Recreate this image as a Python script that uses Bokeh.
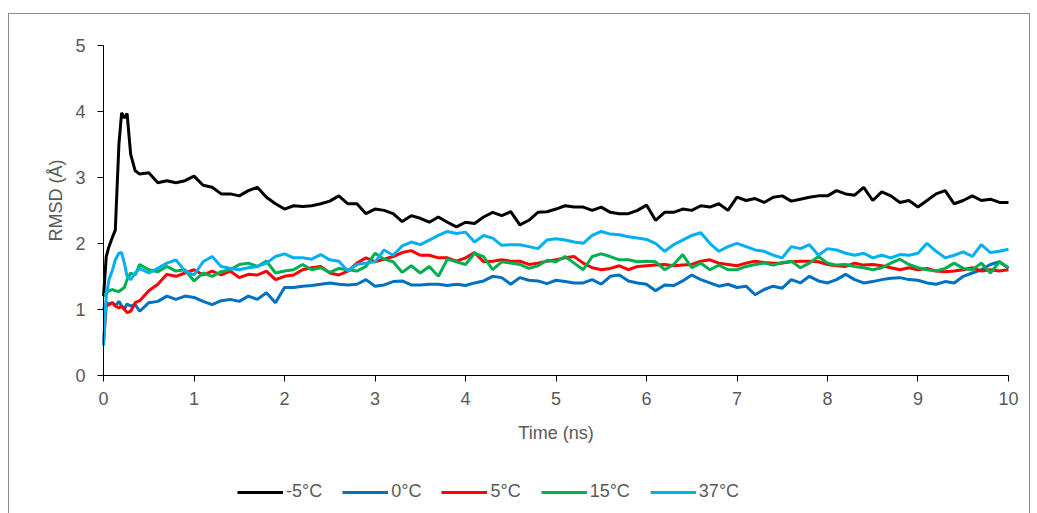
from bokeh.plotting import figure
from bokeh.models import Range1d, Legend, LegendItem, FixedTicker, Title
from bokeh.embed import file_html
from bokeh.resources import INLINE

time_ns = [0, 0.03, 0.06, 0.1, 0.13, 0.17, 0.2, 0.23, 0.26, 0.3, 0.35, 0.4,
           0.5, 0.6, 0.7, 0.8, 0.9, 1.0, 1.1, 1.2, 1.3, 1.4, 1.5, 1.6, 1.7, 1.8, 1.9,
           2.0, 2.1, 2.2, 2.3, 2.4, 2.5, 2.6, 2.7, 2.8, 2.9,
           3.0, 3.1, 3.2, 3.3, 3.4, 3.5, 3.6, 3.7, 3.8, 3.9,
           4.0, 4.1, 4.2, 4.3, 4.4, 4.5, 4.6, 4.7, 4.8, 4.9,
           5.0, 5.1, 5.2, 5.3, 5.4, 5.5, 5.6, 5.7, 5.8, 5.9,
           6.0, 6.1, 6.2, 6.3, 6.4, 6.5, 6.6, 6.7, 6.8, 6.9,
           7.0, 7.1, 7.2, 7.3, 7.4, 7.5, 7.6, 7.7, 7.8, 7.9,
           8.0, 8.1, 8.2, 8.3, 8.4, 8.5, 8.6, 8.7, 8.8, 8.9,
           9.0, 9.1, 9.2, 9.3, 9.4, 9.5, 9.6, 9.7, 9.8, 9.9, 10.0]

rmsd_m5 = [1.2, 1.8, 1.95, 2.1, 2.2, 3.5, 3.98, 3.9, 3.97, 3.35, 3.1, 3.05,
           3.07, 2.92, 2.95, 2.92, 2.95, 3.02, 2.88, 2.85, 2.75, 2.75, 2.72, 2.8, 2.85, 2.7, 2.6,
           2.52, 2.57, 2.56, 2.57, 2.6, 2.64, 2.72, 2.6, 2.6, 2.45,
           2.52, 2.5, 2.45, 2.33, 2.42, 2.38, 2.32, 2.4, 2.32, 2.25,
           2.32, 2.3, 2.4, 2.47, 2.42, 2.48, 2.28, 2.35, 2.47, 2.48,
           2.52, 2.57, 2.55, 2.55, 2.5, 2.55, 2.47, 2.45, 2.45, 2.5,
           2.58, 2.35, 2.47, 2.47, 2.52, 2.5, 2.57, 2.55, 2.6, 2.5,
           2.7, 2.65, 2.68, 2.62, 2.7, 2.72, 2.64, 2.67, 2.7, 2.72,
           2.72, 2.8, 2.75, 2.73, 2.85, 2.65, 2.78, 2.72, 2.62, 2.65,
           2.55, 2.65, 2.75, 2.8, 2.6, 2.65, 2.72, 2.65, 2.67, 2.62, 2.62]

rmsd_0 = [1.0, 1.1, 1.08, 1.1, 1.05, 1.12, 1.05, 1.0, 1.08, 1.05, 1.07, 0.97,
          1.1, 1.12, 1.2, 1.15, 1.2, 1.18, 1.12, 1.07, 1.13, 1.15, 1.12, 1.2, 1.15, 1.25, 1.1,
          1.33, 1.33, 1.35, 1.36, 1.38, 1.4, 1.38, 1.37, 1.38, 1.45,
          1.35, 1.37, 1.42, 1.43, 1.37, 1.37, 1.38, 1.38, 1.36, 1.38,
          1.36, 1.4, 1.43, 1.5, 1.48, 1.38, 1.48, 1.44, 1.43, 1.39,
          1.44, 1.42, 1.4, 1.4, 1.45, 1.38, 1.5, 1.52, 1.43, 1.4,
          1.38, 1.28, 1.37, 1.36, 1.43, 1.52, 1.45, 1.4, 1.35, 1.38,
          1.33, 1.35, 1.22, 1.3, 1.35, 1.32, 1.45, 1.4, 1.5, 1.43,
          1.4, 1.45, 1.53, 1.45, 1.4, 1.42, 1.45, 1.47, 1.48, 1.45,
          1.44, 1.4, 1.38, 1.42, 1.4, 1.5, 1.55, 1.6, 1.68, 1.72, 1.62]

rmsd_5 = [0.48, 1.05, 1.07, 1.1, 1.05, 1.02, 1.05, 1.0, 0.95, 0.97, 1.1, 1.13,
          1.28, 1.38, 1.53, 1.5, 1.55, 1.6, 1.52, 1.58, 1.52, 1.58, 1.48, 1.53, 1.52, 1.58, 1.45,
          1.5, 1.52, 1.6, 1.63, 1.65, 1.55, 1.52, 1.58, 1.7, 1.78,
          1.72, 1.76, 1.8, 1.86, 1.89, 1.82, 1.82, 1.78, 1.78, 1.73,
          1.78, 1.86, 1.72, 1.73, 1.75, 1.73, 1.73, 1.68, 1.7, 1.73,
          1.75, 1.78, 1.8, 1.7, 1.63, 1.6, 1.62, 1.66, 1.6, 1.65,
          1.66, 1.67, 1.68, 1.66, 1.67, 1.68, 1.73, 1.75, 1.7, 1.68,
          1.66, 1.7, 1.73, 1.71, 1.7, 1.7, 1.72, 1.73, 1.73, 1.72,
          1.68, 1.66, 1.65, 1.7, 1.67, 1.68, 1.66, 1.63, 1.6, 1.63,
          1.6, 1.62, 1.58, 1.57, 1.58, 1.6, 1.63, 1.58, 1.6, 1.58, 1.6]

rmsd_15 = [1.2, 1.25, 1.28, 1.3, 1.28, 1.27, 1.3, 1.33, 1.45, 1.55, 1.52, 1.68,
           1.6, 1.57, 1.65, 1.58, 1.6, 1.43, 1.55, 1.5, 1.57, 1.6, 1.68, 1.7, 1.65, 1.73, 1.55,
           1.58, 1.6, 1.68, 1.6, 1.63, 1.56, 1.62, 1.6, 1.58, 1.65,
           1.85, 1.76, 1.72, 1.56, 1.66, 1.55, 1.65, 1.5, 1.76, 1.72,
           1.68, 1.85, 1.8, 1.6, 1.72, 1.7, 1.68, 1.62, 1.66, 1.74,
           1.72, 1.8, 1.7, 1.6, 1.8, 1.84, 1.8, 1.75, 1.75, 1.72,
           1.73, 1.72, 1.6, 1.68, 1.83, 1.63, 1.7, 1.6, 1.67, 1.6,
           1.6, 1.65, 1.68, 1.7, 1.67, 1.71, 1.73, 1.63, 1.7, 1.8,
           1.7, 1.67, 1.68, 1.65, 1.63, 1.6, 1.63, 1.7, 1.76, 1.68,
           1.63, 1.6, 1.58, 1.62, 1.7, 1.62, 1.6, 1.7, 1.55, 1.72, 1.63]

rmsd_37 = [0.45, 1.2, 1.45, 1.6, 1.75, 1.85, 1.86, 1.7, 1.5, 1.45, 1.55, 1.62,
           1.55, 1.62, 1.7, 1.75, 1.58, 1.52, 1.72, 1.8, 1.65, 1.62, 1.6, 1.63, 1.65, 1.7, 1.8,
           1.84, 1.78, 1.78, 1.76, 1.83, 1.75, 1.73, 1.58, 1.68, 1.7,
           1.72, 1.9, 1.82, 1.96, 2.02, 1.98, 2.05, 2.12, 2.18, 2.15,
           2.17, 2.02, 2.12, 2.08, 1.97, 1.98, 1.98, 1.95, 1.92, 2.05,
           2.07, 2.05, 2.02, 2.0, 2.12, 2.18, 2.14, 2.13, 2.1, 2.08,
           2.06, 2.0, 1.88, 1.98, 2.05, 2.12, 2.16, 2.0, 1.88, 1.95,
           2.0, 1.95, 1.9, 1.88, 1.82, 1.78, 1.95, 1.92, 1.98, 1.82,
           1.92, 1.9, 1.85, 1.82, 1.85, 1.78, 1.82, 1.78, 1.83, 1.82,
           1.85, 2.0, 1.88, 1.78, 1.82, 1.87, 1.8, 1.98, 1.86, 1.88, 1.91]

series_names = ["-5°C", "0°C", "5°C", "15°C", "37°C"]
series_values = [rmsd_m5, rmsd_0, rmsd_5, rmsd_15, rmsd_37]
series_colors = ["#000000", "#0070C0", "#FF0000", "#00B050", "#00B0F0"]
x_ticks = [0, 1, 2, 3, 4, 5, 6, 7, 8, 9, 10]
y_ticks = [0, 1, 2, 3, 4, 5]

FONT = "Liberation Sans"
TXT = "#595959"

# The frame is enlarged so that axis labels and the legend sit inside it;
# both axes are pinned at the data origin and bounded to the data extent.
p = figure(width=1022, height=500, output_backend="svg", toolbar_location=None,
           x_range=Range1d(-0.365, 10.199), y_range=Range1d(-2.112, 5.152),
           min_border_left=61, min_border_right=5, min_border_top=21, min_border_bottom=0,
           margin=(13, 0, 0, 8))
p.styles = {"border-top": "1px solid #8c8c8c", "border-left": "1px solid #8c8c8c",
            "border-right": "1px solid #8c8c8c"}
p.outline_line_color = None
p.grid.visible = False
p.background_fill_color = "white"
p.border_fill_color = "white"

for ax in (p.xaxis[0], p.yaxis[0]):
    ax.axis_line_color = "#000000"
    ax.axis_line_width = 1
    ax.major_tick_line_color = "#000000"
    ax.major_tick_in = 0
    ax.major_tick_out = 6
    ax.minor_tick_line_color = None
    ax.major_label_text_font = FONT
    ax.major_label_text_font_size = "18px"
    ax.major_label_text_color = TXT
    ax.axis_label_text_font = FONT
    ax.axis_label_text_font_size = "18px"
    ax.axis_label_text_color = TXT
    ax.axis_label_text_font_style = "normal"

p.xaxis.ticker = FixedTicker(ticks=x_ticks)
p.yaxis.ticker = FixedTicker(ticks=y_ticks)
p.xaxis.bounds = (0, 10)
p.yaxis.bounds = (0, 5)
p.xaxis.fixed_location = 0
p.yaxis.fixed_location = 0
p.xaxis.axis_label = "Time (ns)"
p.xaxis.major_label_standoff = 11
p.xaxis.axis_label_standoff = 14
p.yaxis.major_label_standoff = 12

p.add_layout(Title(text="RMSD (Å)", align="left", offset=273, standoff=10,
                   text_font=FONT, text_font_size="18px", text_font_style="normal",
                   text_color=TXT), "left")

items = []
for name, vals, col in zip(series_names, series_values, series_colors):
    r = p.line(time_ns, vals, line_color=col, line_width=3)
    items.append(LegendItem(label=name, renderers=[r]))

legend = Legend(items=items, orientation="horizontal", location=(167, 12),
                glyph_width=46, glyph_height=20, label_standoff=3, spacing=20,
                padding=5, margin=0, border_line_color=None, background_fill_alpha=0,
                label_text_font=FONT, label_text_font_size="18px", label_text_color=TXT)
p.add_layout(legend, "center")

open("out.html", "w").write(file_html(p, INLINE))
